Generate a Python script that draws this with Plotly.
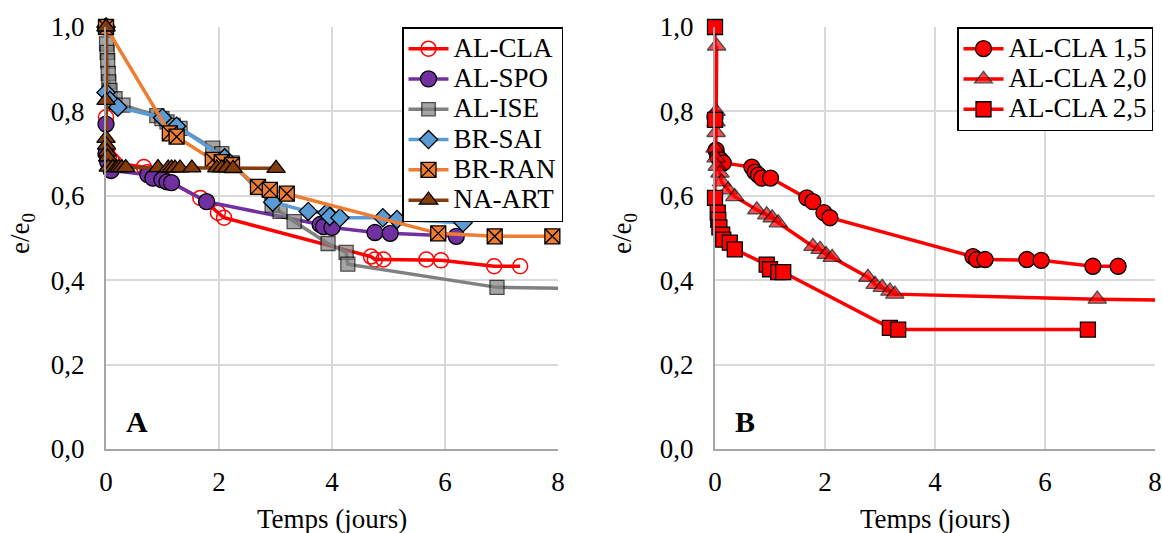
import plotly.graph_objects as go

# ---------------- Data (panel A) ----------------
cla_x = [0.0, 0.02, 0.05, 0.1, 0.15, 0.67, 0.73, 0.79, 0.85, 1.01, 1.67, 1.78, 1.98, 2.09, 4.69, 4.76, 4.91, 5.67, 5.93, 6.87, 7.33]
cla_y = [0.786, 0.708, 0.692, 0.685, 0.678, 0.668, 0.656, 0.649, 0.642, 0.642, 0.595, 0.586, 0.56, 0.548, 0.456, 0.449, 0.449, 0.449, 0.447, 0.433, 0.433]

spo_x = [0.0, 0.0, 0.0, 0.03, 0.09, 0.74, 0.83, 0.99, 1.08, 1.16, 1.78, 3.79, 3.85, 4.0, 4.76, 5.03, 6.2]
spo_y = [1.0, 0.77, 0.70, 0.68, 0.66, 0.65, 0.642, 0.638, 0.633, 0.631, 0.586, 0.532, 0.527, 0.525, 0.513, 0.511, 0.504]

ise_x = [0.0, 0.01, 0.02, 0.03, 0.04, 0.05, 0.07, 0.16, 0.3, 0.9, 0.99, 1.08, 1.19, 1.31, 1.89, 2.05, 2.23, 2.94, 3.08, 3.33, 3.93, 4.25, 4.28, 6.92, 9.5]
ise_y = [1.0, 0.96, 0.94, 0.92, 0.89, 0.87, 0.85, 0.83, 0.815, 0.79, 0.783, 0.775, 0.767, 0.76, 0.713, 0.70, 0.678, 0.578, 0.563, 0.539, 0.487, 0.466, 0.438, 0.383, 0.378]

sai_x = [0.0, 0.0, 0.07, 0.21, 1.0, 1.25, 2.1, 2.95, 3.58, 3.91, 3.96, 4.14, 4.9, 5.15, 6.32]
sai_y = [1.0, 0.845, 0.826, 0.81, 0.785, 0.765, 0.69, 0.585, 0.563, 0.56, 0.551, 0.548, 0.548, 0.544, 0.536]

ran_x = [0.0, 1.13, 1.25, 1.89, 2.05, 2.23, 2.69, 2.9, 3.2, 5.88, 6.88, 7.9]
ran_y = [1.0, 0.748, 0.74, 0.685, 0.68, 0.673, 0.621, 0.614, 0.605, 0.511, 0.504, 0.504]

art_x = [0.0, 0.0, 0.0, 0.01, 0.02, 0.03, 0.04, 0.12, 0.19, 0.23, 0.28, 0.35, 0.92, 1.1, 1.16, 1.22, 1.31, 1.52, 1.96, 2.05, 2.14, 2.25, 3.01]
art_y = [1.0, 0.826, 0.736, 0.72, 0.704, 0.692, 0.668, 0.667, 0.667, 0.667, 0.667, 0.667, 0.667, 0.666, 0.666, 0.666, 0.666, 0.666, 0.666, 0.666, 0.666, 0.665, 0.665]

# ---------------- Data (panel B) ----------------
c20_x = [0.03, 0.02, 0.02, 0.02, 0.0, 0.02, 0.04, 0.09, 0.12, 0.24, 0.36, 0.76, 0.94, 1.04, 1.15, 1.78, 1.91, 2.02, 2.13, 2.78, 2.91, 3.04, 3.18, 3.27, 6.95, 9.5]
c20_y = [0.955, 0.80, 0.775, 0.75, 0.713, 0.69, 0.67, 0.654, 0.633, 0.614, 0.598, 0.567, 0.555, 0.548, 0.536, 0.48, 0.473, 0.461, 0.454, 0.407, 0.39, 0.383, 0.374, 0.367, 0.355, 0.35]

c25_x = [0.0, 0.0, 0.0, 0.05, 0.06, 0.08, 0.13, 0.15, 0.27, 0.36, 0.94, 1.0, 1.15, 1.24, 3.18, 3.33, 6.78]
c25_y = [1.0, 0.78, 0.595, 0.56, 0.543, 0.525, 0.508, 0.496, 0.489, 0.473, 0.437, 0.426, 0.419, 0.419, 0.287, 0.283, 0.283]

x_ticks = [0, 2, 4, 6, 8]
y_ticks = [0.0, 0.2, 0.4, 0.6, 0.8, 1.0]

FONT = "Liberation Serif, Times New Roman, serif"
LEG_TXT = 27


def lab(t):
    return '<span style="font-size:%dpx">%s</span>' % (LEG_TXT, t)


def sizes(xs, s):
    return [s if x <= 8 else 0 for x in xs]


fig = go.Figure()

left = [
    ("AL-CLA", cla_x, cla_y, "#FF0000", dict(symbol="circle-open", size=15, color="#FF0000", line=dict(width=1.5, color="#FF0000"))),
    ("AL-SPO", spo_x, spo_y, "#7030A0", dict(symbol="circle", size=16, color="#7030A0", line=dict(width=1.3, color="#000000"))),
    ("AL-ISE", ise_x, ise_y, "#808080", dict(symbol="square", size=sizes(ise_x, 14), color="#7F7F7F", line=dict(width=1.3, color="#000000"))),
    ("BR-SAI", sai_x, sai_y, "#5B9BD5", dict(symbol="diamond", size=14, color="#5B9BD5", line=dict(width=1.3, color="#000000"))),
    ("BR-RAN", ran_x, ran_y, "#ED7D31", dict(symbol="square-x", size=15, color="#ED7D31", line=dict(width=1.3, color="#000000"))),
    ("NA-ART", art_x, art_y, "#843C0C", dict(symbol="triangle-up", size=16, color="#843C0C", line=dict(width=1.3, color="#000000"))),
]
for name, xs, ys, col, mk in left:
    fig.add_trace(go.Scatter(x=xs, y=ys, name=lab(name), mode="lines+markers",
                             line=dict(color=col, width=3.5), marker=mk,
                             xaxis="x", yaxis="y", legend="legend", cliponaxis=False))

right = [
    ("AL-CLA 1,5", cla_x, cla_y, dict(symbol="circle", size=16, color="#FF0000", line=dict(width=1.3, color="#000000"))),
    ("AL-CLA 2,0", c20_x, c20_y, dict(symbol="triangle-up", size=sizes(c20_x, 16), color="#FF0000", line=dict(width=1.3, color="#000000"))),
    ("AL-CLA 2,5", c25_x, c25_y, dict(symbol="square", size=15, color="#FF0000", line=dict(width=1.3, color="#000000"))),
]
for name, xs, ys, mk in right:
    fig.add_trace(go.Scatter(x=xs, y=ys, name=lab(name), mode="lines+markers",
                             line=dict(color="#FF0000", width=3.5), marker=mk,
                             xaxis="x2", yaxis="y2", legend="legend2", cliponaxis=False))

W, H = 1162, 533
T, B = 27, 84
PH = H - T - B


def py(p):
    return (H - B - p) / PH


axis_common = dict(showgrid=True, gridcolor="#D9D9D9", gridwidth=1.5, zeroline=False,
                   showline=True, linecolor="#A6A6A6", linewidth=2, ticks="",
                   tickfont=dict(family=FONT, size=27, color="#000000"), automargin=False)
xax = dict(axis_common, range=[0, 8], tickvals=x_ticks, ticklabelstandoff=8)
yax = dict(axis_common, range=[0, 1], tickvals=y_ticks, tickformat=".1f", ticklabelstandoff=14)

fig.update_layout(
    width=W, height=H,
    margin=dict(l=0, r=0, t=T, b=B),
    paper_bgcolor="white", plot_bgcolor="white",
    separators=", ",
    font=dict(family=FONT, color="#000000"),
    xaxis=dict(xax, domain=[106 / W, 558 / W], anchor="y"),
    yaxis=dict(yax, domain=[0, 1], anchor="x"),
    xaxis2=dict(xax, domain=[715 / W, 1155 / W], anchor="y2"),
    yaxis2=dict(yax, domain=[0, 1], anchor="x2"),
    legend=dict(x=563 / W, xref="paper", xanchor="right", y=py(27), yanchor="top",
                bgcolor="white", bordercolor="#000000", borderwidth=1.5,
                font=dict(family=FONT, size=21, color="#000000"), itemwidth=40,
                tracegroupgap=0),
    legend2=dict(x=1153 / W, xref="paper", xanchor="right", y=py(27), yanchor="top",
                 bgcolor="white", bordercolor="#000000", borderwidth=1.5,
                 font=dict(family=FONT, size=21, color="#000000"), itemwidth=40,
                 tracegroupgap=0),
    showlegend=True,
)

annos = [
    dict(text="<b>A</b>", x=0.55, y=0.065, xref="x", yref="y", showarrow=False,
         font=dict(family=FONT, size=30, color="#000000")),
    dict(text="<b>B</b>", x=0.55, y=0.065, xref="x2", yref="y2", showarrow=False,
         font=dict(family=FONT, size=30, color="#000000")),
    dict(text="Temps (jours)", x=332 / W, y=py(519), xref="paper", yref="paper", showarrow=False,
         font=dict(family=FONT, size=27), xanchor="center", yanchor="middle"),
    dict(text="Temps (jours)", x=935 / W, y=py(519), xref="paper", yref="paper", showarrow=False,
         font=dict(family=FONT, size=27), xanchor="center", yanchor="middle"),
    dict(text="e/e<sub>0</sub>", x=22 / W, y=py(234), xref="paper", yref="paper", showarrow=False,
         textangle=-90, font=dict(family=FONT, size=27), xanchor="center", yanchor="middle"),
    dict(text="e/e<sub>0</sub>", x=624 / W, y=py(234), xref="paper", yref="paper", showarrow=False,
         textangle=-90, font=dict(family=FONT, size=27), xanchor="center", yanchor="middle"),
]
fig.update_layout(annotations=annos)

fig.write_html("out.html", config={"displayModeBar": False},
               post_script="document.body.style.margin='0px';")
